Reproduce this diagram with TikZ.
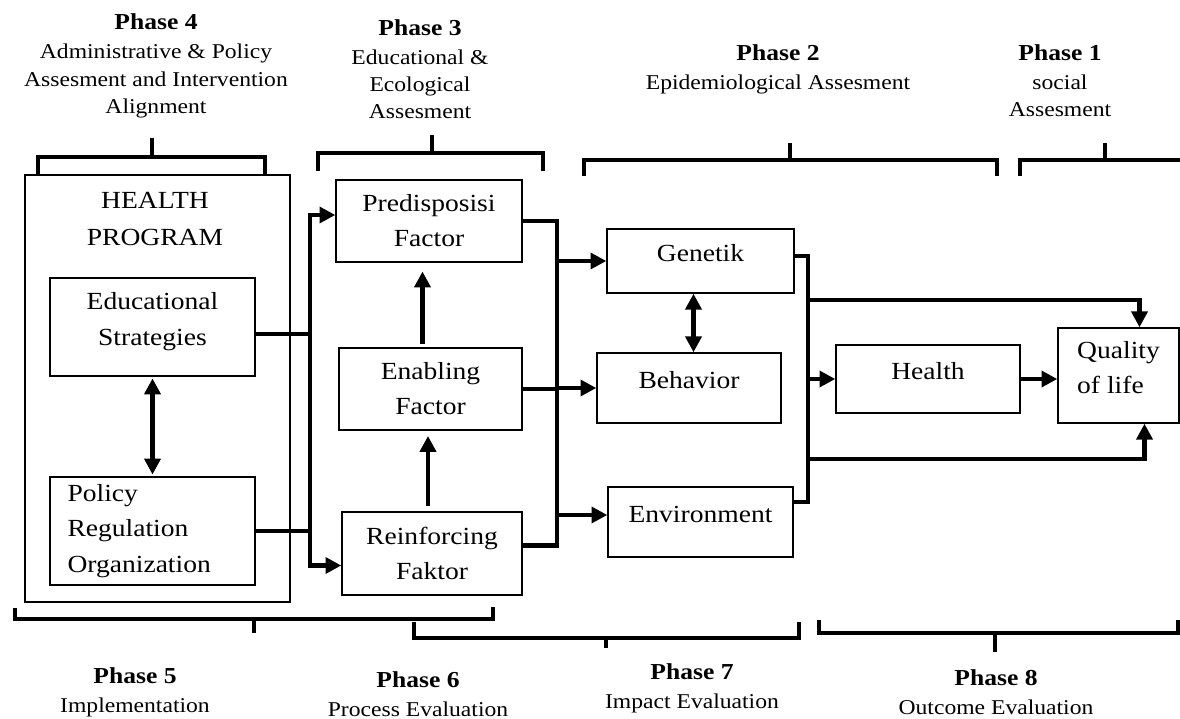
\documentclass[tikz,border=0pt]{standalone}
\usepackage{fontspec}
\setmainfont{Liberation Serif}[FakeStretch=1.12]
\usetikzlibrary{positioning, arrows.meta, calc}

\begin{document}
\begin{tikzpicture}[x=0.02cm, y=-0.02cm]
\tikzstyle{box}=[draw, line width=0.8pt, align=center, font=\fontsize{14}{20}\selectfont]
\tikzstyle{upper}=[text depth=0.32cm]
\tikzstyle{conn}=[line width=2.3pt]
\tikzstyle{arr}=[conn, -{Triangle[length=9pt, width=9pt]}]
\tikzstyle{dbl}=[conn, {Triangle[length=9pt, width=9pt]}-{Triangle[length=9pt, width=9pt]}]
\tikzstyle{brace}=[line width=2.6pt]
\tikzstyle{phase}=[align=center, font=\fontsize{12}{15.5}\selectfont]
\useasboundingbox (0,0) rectangle (1180,719);

% phases on top
\node[phase] (ph4) at (156,66) {\textbf{\fontsize{13}{15.5}\selectfont Phase 4}\\[1pt]Administrative \& Policy\\Assesment and Intervention\\Alignment};
\node[phase] (ph3) at (420,69) {\textbf{\fontsize{13}{15.5}\selectfont Phase 3}\\[1pt]Educational \&\\Ecological\\Assesment};
\node[phase] (ph2) at (778,69) {\textbf{\fontsize{13}{15.5}\selectfont Phase 2}\\[1pt]Epidemiological Assesment};
\node[phase] (ph1) at (1060,81) {\textbf{\fontsize{13}{15.5}\selectfont Phase 1}\\[1pt]social\\Assesment};
\draw[brace] (38,176) -- (38,157) -- (265,157) -- (265,176); \draw[brace] (152,157) -- (152,138);
\draw[brace] (318,171) -- (318,153) -- (543,153) -- (543,171); \draw[brace] (432,153) -- (432,135);
\draw[brace] (584,176) -- (584,160) -- (997,160) -- (997,176); \draw[brace] (790,160) -- (790,143);
\draw[brace] (1020,176) -- (1020,160) -- (1185,160); \draw[brace] (1105,160) -- (1105,143);

% phases at the bottom
\draw[brace] (15,608) -- (15,619) -- (493,619) -- (493,607); \draw[brace] (254,619) -- (254,633);
\draw[brace] (414,622) -- (414,638) -- (799,638) -- (799,622); \draw[brace] (606,638) -- (606,648);
\draw[brace] (819,620) -- (819,633) -- (1178,633) -- (1178,620); \draw[brace] (995,633) -- (995,652);
\node[phase] (ph5) at (135,692) {\textbf{\fontsize{13}{15.5}\selectfont Phase 5}\\[1pt]Implementation};
\node[phase] (ph6) at (418,694) {\textbf{\fontsize{13}{15.5}\selectfont Phase 6}\\[1pt]Process Evaluation};
\node[phase] (ph7) at (692,688) {\textbf{\fontsize{13}{15.5}\selectfont Phase 7}\\[1pt]Impact Evaluation};
\node[phase] (ph8) at (996,692) {\textbf{\fontsize{13}{15.5}\selectfont Phase 8}\\[1pt]Outcome Evaluation};

% health program
\node[box, minimum width=5.3cm, minimum height=8.54cm] (hp) at (157.5,388.5) {};
\node[align=center, font=\fontsize{14}{20.5}\selectfont] (hptitle) at (155,219) {HEALTH\\PROGRAM};
\node[box, upper, minimum width=4.1cm, minimum height=1.96cm] (edu) at (152.5,327) {Educational\\Strategies};
\node[box, minimum width=4.1cm, minimum height=2.16cm, text width=3.4cm, align=left] (pol) at (152.5,531) {Policy\\Regulation\\Organization};

% factors
\node[box, minimum width=3.72cm, minimum height=1.64cm] (pre) at (429,221) {Predisposisi\\Factor};
\node[box, minimum width=3.66cm, minimum height=1.64cm] (ena) at (430.5,389) {Enabling\\Factor};
\node[box, minimum width=3.6cm, minimum height=1.66cm] (rei) at (432,553.5) {Reinforcing\\Faktor};

% epidemiology
\node[box, upper, minimum width=3.74cm, minimum height=1.28cm] (gen) at (700.5,261) {Genetik};
\node[box, upper, minimum width=3.68cm, minimum height=1.4cm] (beh) at (689,388) {Behavior};
\node[box, upper, minimum width=3.7cm, minimum height=1.4cm] (env) at (700.5,522) {Environment};
\node[box, upper, minimum width=3.68cm, minimum height=1.36cm] (hea) at (928,379) {Health};
\node[box, upper, minimum width=2.42cm, minimum height=1.9cm, align=left] (qol) at (1118.5,375.5) {Quality\\of life};

% left bus
\coordinate (lbus) at (310,0);
\coordinate (ein) at ($(edu.east)+(0,7)$);
\coordinate (pin) at ($(pre.west)+(0,-6)$);
\coordinate (rin) at ($(rei.west)+(0,12)$);
\draw[conn] (ein) -- (ein -| lbus);
\draw[conn] (pol.east) -- (pol.east -| lbus);
\draw[dbl] (pin) -| (lbus |- rin) -- (rin);
\draw[dbl, shorten <=1pt, shorten >=1pt] (edu.south) -- (pol.north);
\draw[arr, shorten <=2pt, shorten >=5pt] ($(ena.north)+(-8,0)$) -- ($(ena.north |- pre.south)+(-8,0)$);
\draw[arr, shorten <=3pt, shorten >=3pt] ($(rei.north)+(-4,0)$) -- ($(rei.north |- ena.south)+(-4,0)$);

% right bus of the factors
\coordinate (rbus) at (557,0);
\coordinate (reo) at ($(rei.east)+(0,-8)$);
\coordinate (envin) at ($(env.west)+(0,-7)$);
\draw[conn] (pre.east) -| (rbus |- reo) -- (reo);
\draw[conn] (ena.east) -- (ena.east -| rbus);
\draw[arr] (rbus |- gen.west) -- (gen.west);
\draw[arr] (rbus |- beh.west) -- (beh.west);
\draw[arr] (rbus |- envin) -- (envin);
\draw[dbl] ($(gen.south)+(-7,0)$) -- ($(gen.south |- beh.north)+(-7,0)$);

% bus to health and quality of life
\coordinate (hbus) at (808,0);
\coordinate (gout) at ($(gen.east)+(0,-5)$);
\coordinate (eout) at ($(env.east)+(0,-20)$);
\coordinate (qa) at (808,300);
\coordinate (qb) at (808,459);
\coordinate (qtop) at ($(qol.north)+(21,0)$);
\coordinate (qbot) at ($(qol.south)+(26,0)$);
\draw[conn] (gout) -| (hbus |- eout) -- (eout);
\draw[arr] (qa) -| (qtop);
\draw[arr] (qb) -| (qbot);
\draw[arr] (hbus |- hea.west) -- (hea.west);
\draw[arr] (hea.east) -- (hea.east -| qol.west);
\end{tikzpicture}
\end{document}
